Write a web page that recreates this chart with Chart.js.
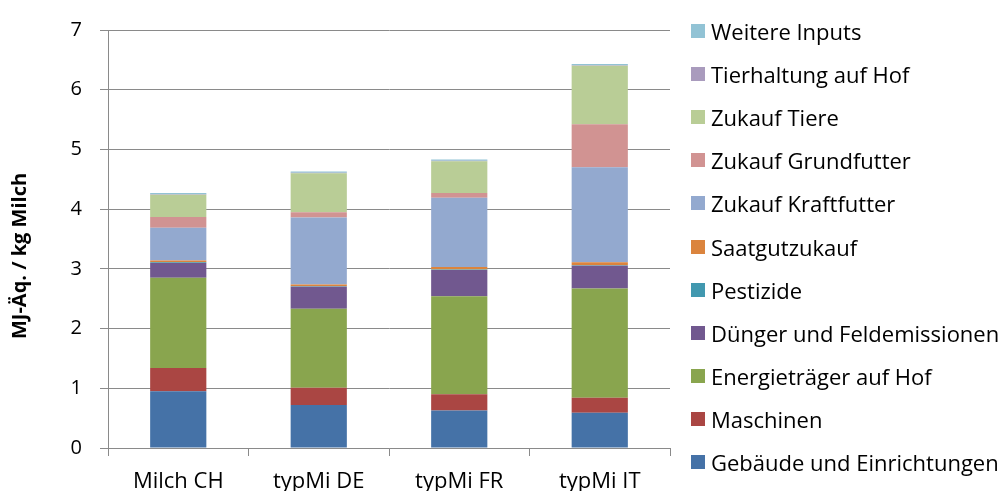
<!DOCTYPE html>
<html>
<head>
<meta charset="utf-8">
<script src="https://cdn.jsdelivr.net/npm/chart.js@4"></script>
<style>
  body { margin: 0; background: #fff; }
  #wrap { position: relative; width: 1002px; height: 491px; overflow: hidden; }
  #legend { position: absolute; left: 691px; top: 0; margin: 0; padding: 0; list-style: none; }
  #legend li {
    position: absolute; left: 0; height: 22px; line-height: 22px;
    white-space: nowrap; font: 22px "Open Sans"; color: #000;
  }
  #legend span.box {
    position: absolute; left: 0; top: 4px; width: 14px; height: 14px;
  }
  #legend span.txt { position: absolute; left: 20px; top: -4px; }
</style>
</head>
<body>
<div id="wrap">
  <canvas id="energyChart" width="1002" height="491"></canvas>
  <ul id="legend"></ul>
</div>
<script>
const categories = ['Milch CH', 'typMi DE', 'typMi FR', 'typMi IT'];

// MJ-Äq. per kg Milch, one array per input group (bottom to top of the stack)
const gebaeude     = [0.95, 0.72, 0.63, 0.59];
const maschinen    = [0.39, 0.29, 0.27, 0.25];
const energie      = [1.51, 1.32, 1.64, 1.83];
const duenger      = [0.25, 0.37, 0.44, 0.38];
const pestizide    = [0.01, 0.01, 0.01, 0.01];
const saatgut      = [0.03, 0.03, 0.04, 0.05];
const kraftfutter  = [0.55, 1.12, 1.16, 1.59];
const grundfutter  = [0.18, 0.09, 0.08, 0.72];
const tiere        = [0.37, 0.65, 0.53, 0.98];
const tierhaltung  = [0.01, 0.01, 0.01, 0.01];
const weitere      = [0.02, 0.02, 0.02, 0.02];

const yTicks = [0, 1, 2, 3, 4, 5, 6, 7];
const yTitle = 'MJ-Äq. / kg Milch';

const series = [
  ['Gebäude und Einrichtungen', gebaeude, '#4572A7'],
  ['Maschinen', maschinen, '#AA4643'],
  ['Energieträger auf Hof', energie, '#89A54E'],
  ['Dünger und Feldemissionen', duenger, '#71588F'],
  ['Pestizide', pestizide, '#4198AF'],
  ['Saatgutzukauf', saatgut, '#DB843D'],
  ['Zukauf Kraftfutter', kraftfutter, '#93A9CF'],
  ['Zukauf Grundfutter', grundfutter, '#D19392'],
  ['Zukauf Tiere', tiere, '#B9CD96'],
  ['Tierhaltung auf Hof', tierhaltung, '#A99BBD'],
  ['Weitere Inputs', weitere, '#92C3D5']
];

const gridColor = '#8a8a8a';

// rotated axis title, placed by hand on the left edge
const yTitlePlugin = {
  id: 'yTitle',
  afterDraw(chart) {
    const ctx = chart.ctx;
    ctx.save();
    ctx.translate(20, 256);
    ctx.rotate(-Math.PI / 2);
    ctx.font = 'bold 20px "Open Sans"';
    ctx.fillStyle = '#000';
    ctx.textAlign = 'center';
    ctx.textBaseline = 'middle';
    ctx.fillText(yTitle, 0, 0);
    ctx.restore();
  }
};

// legend list on the right, top entry = top of the stack
const htmlLegendPlugin = {
  id: 'htmlLegend',
  afterUpdate(chart) {
    const list = document.getElementById('legend');
    list.innerHTML = '';
    const items = chart.options.plugins.legend.labels.generateLabels(chart).reverse();
    items.forEach((item, i) => {
      const li = document.createElement('li');
      li.style.top = (20 + i * 43.1) + 'px';
      const box = document.createElement('span');
      box.className = 'box';
      box.style.background = item.fillStyle;
      const txt = document.createElement('span');
      txt.className = 'txt';
      txt.textContent = item.text;
      li.appendChild(box);
      li.appendChild(txt);
      list.appendChild(li);
    });
  }
};

const ctx = document.getElementById('energyChart').getContext('2d');

const energyChart = new Chart(ctx, {
  type: 'bar',
  data: {
    labels: categories,
    datasets: series.map(([label, values, color]) => ({
      label: label,
      data: values,
      backgroundColor: color,
      borderWidth: 0,
      barPercentage: 0.4,
      categoryPercentage: 1
    }))
  },
  options: {
    responsive: false,
    animation: false,
    devicePixelRatio: 1,
    layout: { padding: { top: 22, left: 0, right: 332, bottom: 0 } },
    plugins: {
      tooltip: { enabled: false },
      legend: { display: false }
    },
    scales: {
      x: {
        stacked: true,
        afterFit(scale) { scale.height = 43; },
        grid: {
          offset: true,
          drawOnChartArea: false,
          drawTicks: true,
          tickLength: 8,
          color: gridColor
        },
        border: { color: gridColor },
        ticks: {
          padding: 13,
          color: '#000',
          font: { family: 'Open Sans', size: 22 }
        }
      },
      y: {
        stacked: true,
        min: yTicks[0],
        max: yTicks[yTicks.length - 1],
        afterFit(scale) { scale.width = 108; },
        afterBuildTicks(scale) {
          scale.ticks = yTicks.map(v => ({ value: v }));
        },
        grid: {
          color: gridColor,
          tickLength: 8
        },
        border: { color: gridColor },
        ticks: {
          padding: 18,
          color: '#000',
          font: { family: 'Open Sans', size: 20 }
        }
      }
    }
  },
  plugins: [yTitlePlugin, htmlLegendPlugin]
});
</script>
</body>
</html>
